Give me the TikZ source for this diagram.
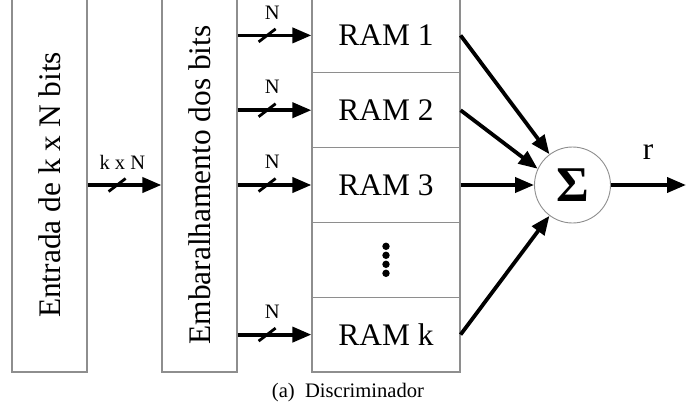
\documentclass[tikz,border=0pt]{standalone}
\usepackage{fontspec}
\setmainfont{Liberation Serif}
\usetikzlibrary{arrows.meta,calc}
\definecolor{framegray}{HTML}{8E8E8E}
\begin{document}
\begin{tikzpicture}[x=1pt,y=-1pt,
  bigfont/.style={font=\fontsize{31.4}{36}\selectfont},
  smallfont/.style={font=\fontsize{20.5}{24}\selectfont},
  block/.style={draw=framegray, line width=1.2pt, inner sep=0pt,
    minimum width=75pt, minimum height=374pt},
  ramcell/.style={draw=framegray, line width=1.2pt, inner sep=0pt,
    minimum width=148pt, minimum height=74.8pt, bigfont},
  sumnode/.style={circle, draw=framegray, line width=0.9pt, inner sep=0pt,
    minimum size=76pt},
  bus/.style={line width=3.8pt, -{Triangle[length=19pt,width=15pt]}},
  slashline/.style={line width=2.8pt},
  buslabel/.style={smallfont, inner sep=0pt}
]
\useasboundingbox (0,0) rectangle (699,410);
\clip (0,0) rectangle (699,410);

% input and shuffling blocks
\node[block] (entrada) at (49.5,185) {};
\node[bigfont, rotate=90] at (entrada) {Entrada de k x N bits};
\node[block] (emb) at (199.5,185) {};
\node[bigfont, rotate=90] at (emb) {Embaralhamento dos bits};

% RAM column
\node[ramcell] (ram1) at (386,35.4)  {RAM 1};
\node[ramcell] (ram2) at (386,110.2) {RAM 2};
\node[ramcell] (ram3) at (386,185)   {RAM 3};
\node[ramcell] (ramd) at (386,259.8) {};
\node[ramcell] (ramk) at (386,334.6) {RAM k};
\foreach \dy in {-13.5,-4.5,4.5,13.5}
  \fill ($(ramd.center)+(0,\dy)$) circle (3.7);

% summing node and output
\node[sumnode] (sum) at (572.5,185) {\fontsize{50}{54}\selectfont\bfseries Σ};
\coordinate (out) at (686,185);

% k x N bus
\draw[bus] (entrada.east) -- (emb.west);
\draw[slashline] ($(entrada.east)!0.4!(emb.west)+(-8.5,6.5)$) -- ++(17,-13);
\node[buslabel] at ($(entrada.east)!0.47!(emb.west)+(0,-22.5)$) {k x N};

% N-bit buses into the RAMs
\foreach \r in {ram1,ram2,ram3,ramk}{
  \draw[bus] (emb.east |- \r.west) -- (\r.west);
  \draw[slashline] ($(emb.east |- \r.west)!0.4!(\r.west)+(-8.5,6.5)$) -- ++(17,-13);
  \node[buslabel] at ($(emb.east |- \r.west)!0.47!(\r.west)+(0,-23)$) {N};
}

% RAM outputs to the adder
\draw[bus] (ram1.east) -- (sum);
\draw[bus] (ram2.east) -- (sum.155);
\draw[bus] (ram3.east) -- (sum.west);
\draw[bus] (ramk.east) -- (sum);
\draw[bus] (sum.east) -- (out);
\node[bigfont, inner sep=0pt] (rlabel) at (648,152.5) {r};

% caption
\node[font=\fontsize{20.6}{24}\selectfont, inner sep=0pt] (caption) at (348,393)
  {(a)\enskip Discriminador};
\end{tikzpicture}
\end{document}
